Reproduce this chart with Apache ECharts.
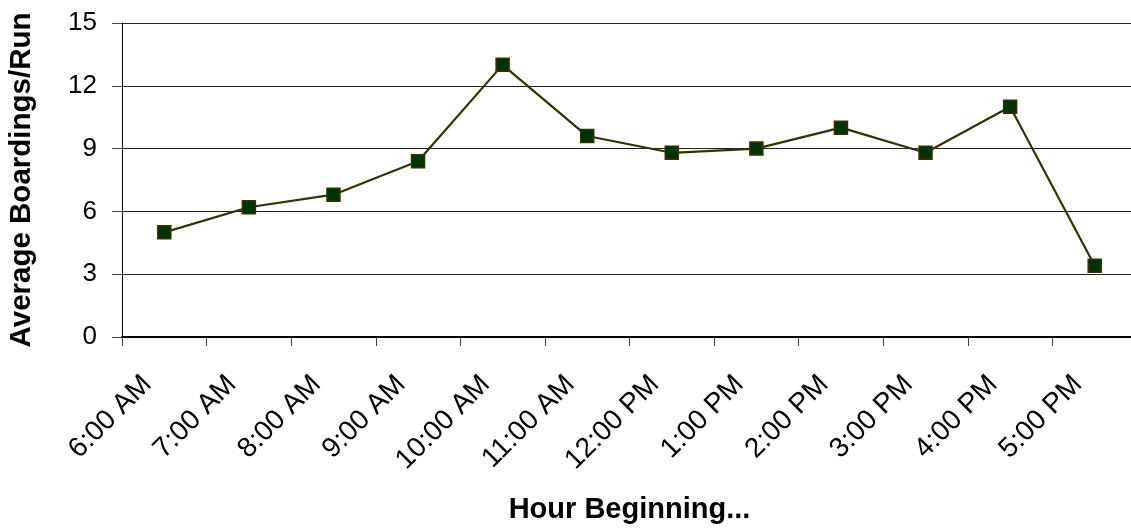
<!DOCTYPE html>
<html>
<head>
<meta charset="utf-8">
<script src="https://cdn.jsdelivr.net/npm/echarts@6/dist/echarts.min.js"></script>
<style>
html,body{margin:0;padding:0;background:#fff;}
#chart{width:1131px;height:529px;}
</style>
</head>
<body>
<div id="chart"></div>
<script>
var categories = ['6:00 AM','7:00 AM','8:00 AM','9:00 AM','10:00 AM','11:00 AM','12:00 PM','1:00 PM','2:00 PM','3:00 PM','4:00 PM','5:00 PM'];
var boardings = [5.0, 6.2, 6.8, 8.4, 13.0, 9.6, 8.8, 9.0, 10.0, 8.8, 11.0, 3.4];
var yTicks = [0, 3, 6, 9, 12, 15];
var xTitle = 'Hour Beginning...';
var yTitle = 'Average Boardings/Run';

var chart = echarts.init(document.getElementById('chart'), null, {renderer:'canvas'});
var font = 'Liberation Sans, Arial, sans-serif';
chart.setOption({
  animation: false,
  backgroundColor: '#ffffff',
  grid: {left: 122, right: -6, top: 23, bottom: 192, containLabel: false, outerBoundsMode: 'none'},
  xAxis: {
    type: 'category',
    data: categories,
    boundaryGap: true,
    name: xTitle,
    nameLocation: 'middle',
    nameGap: 158,
    nameTextStyle: {fontFamily: font, fontSize: 29, fontWeight: 'bold', color: '#000'},
    axisLine: {lineStyle: {color: '#000', width: 2}},
    axisTick: {show: true, length: 9, lineStyle: {color: '#444', width: 1}},
    axisLabel: {rotate: 45, margin: 26, padding: [0, 24, 0, 0], fontFamily: font, fontSize: 28, color: '#000', interval: 0, hideOverlap: false},
    splitLine: {show: false}
  },
  yAxis: {
    type: 'value',
    min: yTicks[0],
    max: yTicks[yTicks.length - 1],
    interval: 3,
    name: yTitle,
    nameLocation: 'middle',
    nameGap: 85,
    nameRotate: 90,
    nameTextStyle: {fontFamily: font, fontSize: 29.5, fontWeight: 'bold', color: '#000'},
    axisLine: {show: true, lineStyle: {color: '#000', width: 1}},
    axisTick: {show: true, length: 10, lineStyle: {color: '#444', width: 1}},
    axisLabel: {margin: 25, fontFamily: font, fontSize: 26, color: '#000'},
    splitLine: {show: true, lineStyle: {color: '#222', width: 1}}
  },
  series: [{
    type: 'line',
    data: boardings,
    symbol: 'rect',
    symbolSize: 13,
    lineStyle: {color: '#333300', width: 2.2},
    itemStyle: {color: '#003300', borderColor: '#333300', borderWidth: 1.5},
    z: 3
  }]
});
</script>
</body>
</html>
